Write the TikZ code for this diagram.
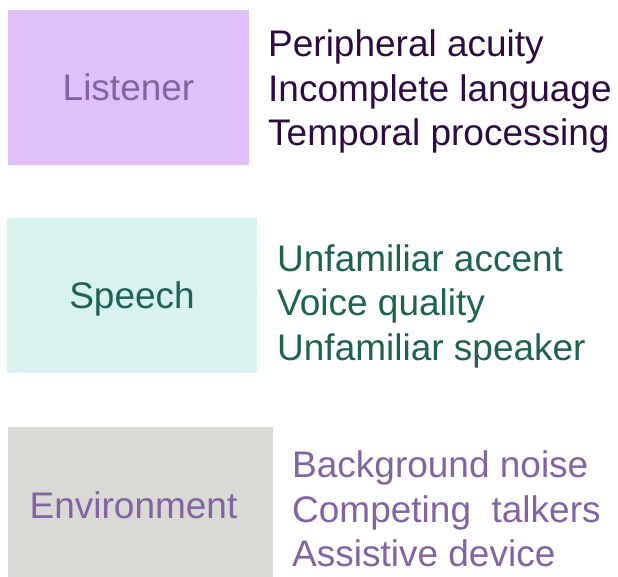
\documentclass[tikz,border=0pt]{standalone}
\usepackage{fontspec}
\setmainfont{Liberation Sans}
\definecolor{lisfill}{HTML}{E0C0F8}
\definecolor{lislab}{HTML}{8264A2}
\definecolor{listxt}{HTML}{2E0A45}
\definecolor{spfill}{HTML}{D8F2EE}
\definecolor{sptxt}{HTML}{1E6352}
\definecolor{envfill}{HTML}{D9D9D5}
\definecolor{envtxt}{HTML}{8264A2}
\tikzset{
  catbox/.style={inner sep=0pt, outer sep=0pt, font=\fontsize{37}{44}\selectfont},
  item/.style={anchor=base west, inner sep=0pt, font=\fontsize{37}{44}\selectfont},
}
\begin{document}
\begin{tikzpicture}[x=1pt,y=-1pt]
\useasboundingbox (0,0) rectangle (618,577);
% Listener
\fill[lisfill] (8,10) rectangle (249,165);
\node[catbox, text=lislab] (listener) at (128.5,87.5) {Listener};
\node[item, text=listxt] (l1) at (268,57) {Peripheral acuity};
\node[item, text=listxt] (l2) at (268,102) {Incomplete language};
\node[item, text=listxt] (l3) at (268,146) {Temporal processing};
% Speech
\fill[spfill] (7,218) rectangle (257,373);
\node[catbox, text=sptxt] (speech) at (132,299) {Speech};
\node[item, text=sptxt] (s1) at (277,272) {Unfamiliar accent};
\node[item, text=sptxt] (s2) at (277,315) {Voice quality};
\node[item, text=sptxt] (s3) at (277,360) {Unfamiliar speaker};
% Environment
\fill[envfill] (8,427) rectangle (273,577);
\node[catbox, text=envtxt] (env) at (133.5,505) {Environment};
\node[item, text=envtxt] (e1) at (292,477) {Background noise};
\node[item, text=envtxt] (e2) at (292,522) {Competing\ \ talkers};
\node[item, text=envtxt] (e3) at (292,566) {Assistive device};
\end{tikzpicture}
\end{document}
